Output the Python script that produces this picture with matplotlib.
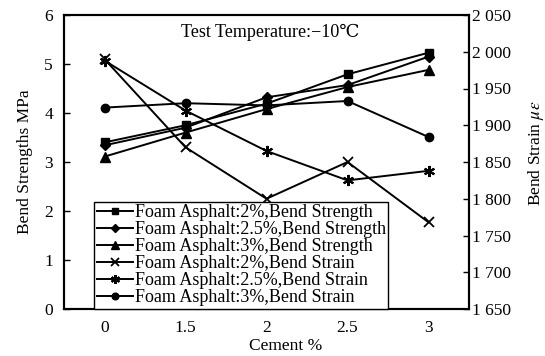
import matplotlib
matplotlib.use("Agg")
import matplotlib.pyplot as plt

plt.rcParams['font.family'] = ['Liberation Serif', 'DejaVu Serif']
plt.rcParams['mathtext.fontset'] = 'stix'

cement_labels = ['0', '1.5', '2', '2.5', '3']

strength_2 = [3.40, 3.75, 4.19, 4.79, 5.23]
strength_25 = [3.34, 3.70, 4.32, 4.57, 5.15]
strength_3 = [3.11, 3.60, 4.08, 4.53, 4.88]

strain_2 = [1990, 1870, 1800, 1850, 1768]
strain_25 = [1988, 1920, 1865, 1825, 1838]
strain_3 = [1924, 1930, 1927, 1933, 1884]

left_ticks = [0, 1, 2, 3, 4, 5, 6]
right_ticks = [1650, 1700, 1750, 1800, 1850, 1900, 1950, 2000, 2050]
right_tick_labels = ['1 650', '1 700', '1 750', '1 800', '1 850', '1 900', '1 950', '2 000', '2 050']

fig = plt.figure(figsize=(5.45, 3.56), dpi=100)
ax = fig.add_axes([64/545, 1-309/356, 405/545, 294/356])
ax2 = ax.twinx()

x = list(range(len(cement_labels)))
lw = 1.4
h1, = ax.plot(x, strength_2, color='black', lw=lw, marker='s', ms=6, label='Foam Asphalt:2%,Bend Strength')
h2, = ax.plot(x, strength_25, color='black', lw=lw, marker='D', ms=5, label='Foam Asphalt:2.5%,Bend Strength')
h3, = ax.plot(x, strength_3, color='black', lw=lw, marker='^', ms=7, label='Foam Asphalt:3%,Bend Strength')
h4, = ax2.plot(x, strain_2, color='black', lw=lw, marker='x', ms=7, mew=1.3, label='Foam Asphalt:2%,Bend Strain')
h5, = ax2.plot(x, strain_25, color='black', lw=lw, marker=(6, 2, 0), ms=8, mew=1.5, label='Foam Asphalt:2.5%,Bend Strain')
h6, = ax2.plot(x, strain_3, color='black', lw=lw, marker='o', ms=6, label='Foam Asphalt:3%,Bend Strain')

ax.set_xlim(-0.5, 4.5)
ax.set_ylim(0, 6)
ax2.set_ylim(1650, 2050)
ax.set_xticks(x)
ax.set_xticklabels(cement_labels)
ax.set_yticks(left_ticks)
ax2.set_yticks(right_ticks)
ax2.set_yticklabels(right_tick_labels)

ax.tick_params(axis='x', length=0, pad=8, labelsize=12.5)
ax.tick_params(axis='y', direction='in', length=4, width=1, pad=8, labelsize=12.5)
ax2.tick_params(axis='y', direction='in', length=4, width=1, pad=2, labelsize=12.5)
for a in (ax, ax2):
    for s in a.spines.values():
        s.set_linewidth(1.5)

ax.set_xlabel('Cement %', fontsize=12.5)
ax.xaxis.set_label_coords(0.546, -0.10)
ax.set_ylabel('Bend Strengths MPa', fontsize=12.5)
ax.yaxis.set_label_coords(-0.077, 0.5)
ax2.set_ylabel('Bend Strain $\\mu\\varepsilon$', fontsize=12.5)
ax2.yaxis.set_label_coords(1.141, 0.53)

ax.text(0.51, 0.94, 'Test Temperature:\u221210\u2103', transform=ax.transAxes,
        ha='center', va='center', fontsize=13)

leg = ax2.legend(handles=[h1, h2, h3, h4, h5, h6], loc='lower left',
                 bbox_to_anchor=(0.074, 0.0), fontsize=13, frameon=True,
                 fancybox=False, edgecolor='black', framealpha=1,
                 handlelength=2.0, handletextpad=0.1, labelspacing=0.0,
                 borderpad=0.15, borderaxespad=0.0, markerscale=0.8)
leg.get_frame().set_linewidth(1.0)

fig.savefig('out.png', dpi=100)
